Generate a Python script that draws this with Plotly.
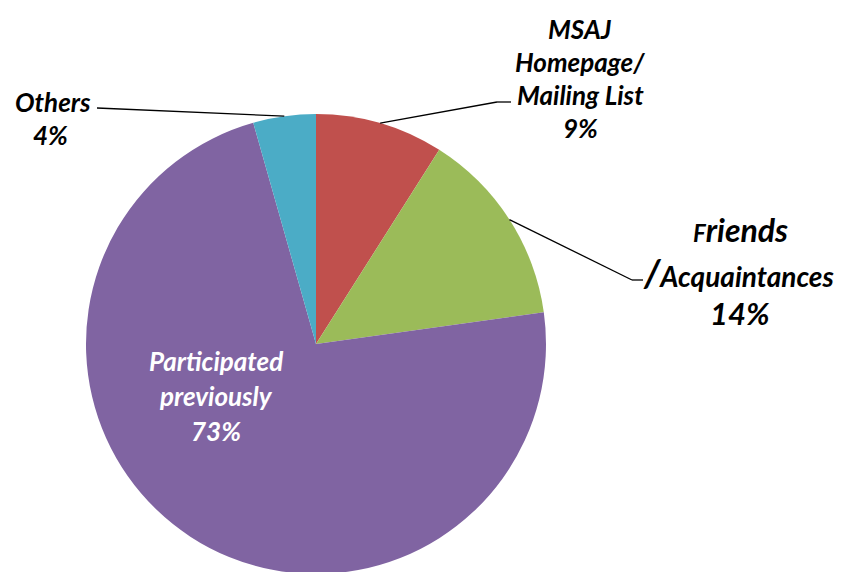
import math
import plotly.graph_objects as go

# ---- data ----
categories = ["MSAJ Homepage/ Mailing List", "Friends /Acquaintances", "Participated previously", "Others"]
values = [9.0, 13.8, 72.8, 4.4]
colors = ["#C0504D", "#9BBB59", "#8064A2", "#4BACC6"]

W, H = 842, 572
OFF = 8  # page body margin offset
CX, CY, R = 316, 344, 230  # pie centre / radius in screen pixels (layout)

FONT = "Lato, 'Open Sans', sans-serif"

def px(x):
    return (x - OFF) / W

def py(y):
    return 1 - (y - OFF) / H

fig = go.Figure(go.Pie(
    labels=categories,
    values=values,
    sort=False,
    direction="clockwise",
    rotation=0,
    marker=dict(colors=colors, line=dict(width=0)),
    textinfo="none",
    hoverinfo="label+percent",
    showlegend=False,
    domain=dict(x=[px(CX - R), px(CX + R)], y=[py(CY + R), py(CY - R)]),
))

total = sum(values)
pcts = [round(v / total * 100) for v in values]

def mid_angle(i):
    start = sum(values[:i]) / total * 360
    return start + values[i] / total * 360 / 2

def edge_point(i):
    a = math.radians(mid_angle(i))
    return CX + R * math.sin(a), CY - R * math.cos(a)

annots = []

def add_line(t, cx, y, size, color="black"):
    annots.append(dict(
        x=px(cx), y=py(y), xref="paper", yref="paper", text=f"<b><i>{t}</i></b>", showarrow=False,
        xanchor="center", yanchor="middle",
        font=dict(family=FONT, size=size, color=color),
    ))

# MSAJ label
add_line("MSAJ", 580, 29, 26)
add_line("Homepage/", 580, 62, 26)
add_line("Mailing List", 580, 95, 26)
add_line(f"{pcts[0]}%", 580, 128, 26)
# Friends label
add_line('<span style="font-size:24px">F</span>riends', 740, 229, 32)
add_line('<span style="font-size:38px">/</span>Acquaintances', 738, 272, 28)
add_line(f"{pcts[1]}%", 740, 313, 31)
# Others label
add_line("Others", 53, 102, 26)
add_line(f"{pcts[3]}%", 50, 135, 26)
# Participated label (inside)
add_line("Participated", 216, 361, 26, "white")
add_line("previously", 216, 396, 26, "white")
add_line(f"{pcts[2]}%", 216, 431, 26, "white")

fig.update_layout(annotations=annots)

# leader lines (start on slice edge at slice mid-angle)
shapes = []
def leader(i, pts):
    x0, y0 = edge_point(i)
    path_pts = [(x0, y0)] + pts
    for (a, b), (c, d) in zip(path_pts[:-1], path_pts[1:]):
        shapes.append(dict(type="line", xref="paper", yref="paper",
                           x0=px(a), y0=py(b), x1=px(c), y1=py(d),
                           line=dict(color="black", width=1.3)))

leader(0, [(497, 102), (511, 102)])
leader(1, [(632, 280), (643, 280)])
leader(3, [(97, 108)])
fig.update_layout(shapes=shapes)

fig.update_layout(
    width=W, height=H,
    margin=dict(l=0, r=0, t=0, b=0),
    paper_bgcolor="white", plot_bgcolor="white",
)

fig.write_html("out.html")
